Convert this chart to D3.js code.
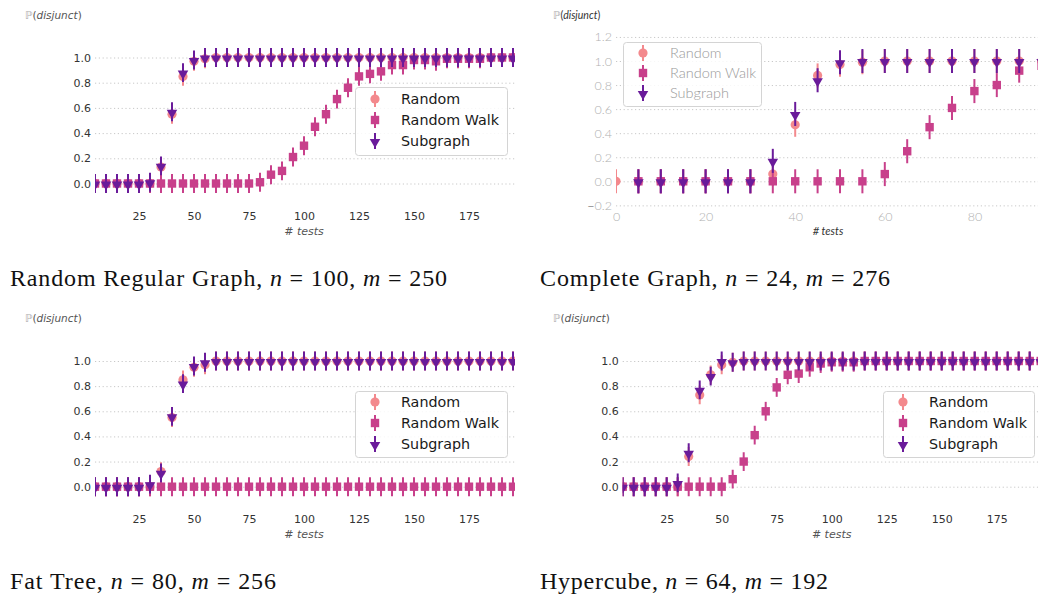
<!DOCTYPE html>
<html>
<head>
<meta charset="utf-8">
<script src="https://cdn.jsdelivr.net/npm/d3@7"></script>
<style>
  html, body { margin: 0; padding: 0; background: #fff; }
  svg { display: block; }
</style>
</head>
<body>
<div id="chart"></div>
<script>
// x values (# tests)
const tests5to195 = [5, 10, 15, 20, 25, 30, 35, 40, 45, 50, 55, 60, 65, 70, 75, 80, 85, 90, 95, 100,
    105, 110, 115, 120, 125, 130, 135, 140, 145, 150, 155, 160, 165, 170, 175, 180, 185, 190, 195];
const tests0to95 = [0, 5, 10, 15, 20, 25, 30, 35, 40, 45, 50, 55, 60, 65, 70, 75, 80, 85, 90, 95];
const tests5to95 = [5, 10, 15, 20, 25, 30, 35, 40, 45, 50, 55, 60, 65, 70, 75, 80, 85, 90, 95];

const seriesNames = ["Random", "Random Walk", "Subgraph"];

// Random Regular Graph
const rrgRandom = [0, 0, 0, 0, 0, 0, 0.13, 0.55, 0.85, 0.97, 0.99, 1, 1, 1, 1, 1, 1, 1, 1, 1,
    1, 1, 1, 1, 1, 1, 1, 1, 1, 1, 1, 1, 1, 1, 1, 1, 1, 1, 1];
const rrgWalk = [0, 0, 0, 0, 0, 0, 0, 0, 0, 0, 0, 0, 0, 0, 0, 0.01, 0.07, 0.10, 0.21, 0.30,
    0.45, 0.55, 0.67, 0.76, 0.85, 0.87, 0.89, 0.94, 0.94, 0.98, 0.98, 0.97, 0.99, 0.99, 0.99, 0.99, 1, 1, 1];
const rrgSubgraph = [0, 0, 0, 0, 0, 0.01, 0.14, 0.57, 0.88, 0.98, 1, 1, 1, 1, 1, 1, 1, 1, 1, 1,
    1, 1, 1, 1, 1, 1, 1, 1, 1, 1, 1, 1, 1, 1, 1, 1, 1, 1, 1];

// Complete Graph
const cgRandom = [0, 0, 0, 0, 0, 0, 0, 0.06, 0.47, 0.88, 0.97, 0.99, 1, 1, 1, 1, 1, 1, 1, 1];
const cgWalk = [0, 0, 0, 0, 0, 0, 0, 0, 0, 0, 0, 0.06, 0.25, 0.45, 0.61, 0.75, 0.80, 0.92, 0.96];
const cgSubgraph = [0, 0, 0, 0, 0, 0, 0.17, 0.56, 0.84, 0.99, 1, 1, 1, 1, 1, 1, 1, 1, 1];

// Fat Tree
const ftRandom = [0, 0, 0, 0, 0, 0, 0.12, 0.55, 0.85, 0.95, 0.97, 1, 1, 1, 1, 1, 1, 1, 1, 1,
    1, 1, 1, 1, 1, 1, 1, 1, 1, 1, 1, 1, 1, 1, 1, 1, 1, 1, 1];
const ftWalk = [0, 0, 0, 0, 0, 0, 0, 0, 0, 0, 0, 0, 0, 0, 0, 0, 0, 0, 0, 0,
    0, 0, 0, 0, 0, 0, 0, 0, 0, 0, 0, 0, 0, 0, 0, 0, 0, 0, 0];
const ftSubgraph = [0, 0, 0, 0, 0, 0.02, 0.11, 0.56, 0.82, 0.96, 0.99, 1, 1, 1, 1, 1, 1, 1, 1, 1,
    1, 1, 1, 1, 1, 1, 1, 1, 1, 1, 1, 1, 1, 1, 1, 1, 1, 1, 1];

// Hypercube
const hcRandom = [0, 0, 0, 0, 0, 0, 0.24, 0.73, 0.89, 0.97, 0.99, 1, 1, 1, 1, 1, 1, 1, 1, 1,
    1, 1, 1, 1, 1, 1, 1, 1, 1, 1, 1, 1, 1, 1, 1, 1, 1, 1, 1];
const hcWalk = [0, 0, 0, 0, 0, 0, 0, 0, 0, 0, 0.06, 0.20, 0.41, 0.60, 0.79, 0.89, 0.90, 0.95, 0.98, 0.99,
    0.99, 0.99, 1, 1, 1, 1, 1, 1, 1, 1, 1, 1, 1, 1, 1, 1, 1, 1, 1];
const hcSubgraph = [0, 0, 0, 0, 0, 0.03, 0.27, 0.77, 0.88, 1, 0.99, 1, 1, 1, 1, 1, 1, 1, 1, 1,
    1, 1, 1, 1, 1, 1, 1, 1, 1, 1, 1, 1, 1, 1, 1, 1, 1, 1, 1];

// error bar half widths
const errRRG = 0.075, errCG = 0.1, errFT = 0.075, errHC = 0.075;

// ticks
const xTicksLong = [25, 50, 75, 100, 125, 150, 175];
const yTicksShort = [0, 0.2, 0.4, 0.6, 0.8, 1.0];
const xTicksCG = [0, 20, 40, 60, 80];
const yTicksCG = [-0.2, 0, 0.2, 0.4, 0.6, 0.8, 1.0, 1.2];

// titles: [text, n, m]
const titles = [
    ["Random Regular Graph", "100", "250"],
    ["Complete Graph", "24", "276"],
    ["Fat Tree", "80", "256"],
    ["Hypercube", "64", "192"]
];

const colors = ["#f3898d", "#c8408b", "#6a1b9a"];
const shapes = ["circle", "square", "triangle"];

const width = 1038, height = 596;

const svg = d3.select("#chart")
    .append("svg")
    .attr("width", width)
    .attr("height", height);

const styleA = {
    font: "DejaVu Sans", tickSize: 11, tickFill: "#333", tickWeight: 400,
    legendSize: 14.3, legendFill: "#1a1a1a", legendWeight: 400,
    labelFill: "#555", xLabelShift: 0
};
const styleB = {
    font: "Lato", tickSize: 12.5, tickFill: "#b0b0b0", tickWeight: 300,
    legendSize: 14.5, legendFill: "#999", legendWeight: 300,
    labelFill: "#333", xLabelShift: -12
};

const panels = [
    {
        style: styleA, err: errRRG,
        data: [[tests5to195, rrgRandom], [tests5to195, rrgWalk], [tests5to195, rrgSubgraph]],
        xDomain: [5, 195], xRange: [95, 513], clip: [95, 515],
        yRange: [183.5, 57.5], xTicks: xTicksLong, yTicks: yTicksShort,
        xAxisY: 212, xLabelY: 235, yLabel: [25, 19],
        legend: { x: 355, y: 87, w: 152, h: 68, mx: 375, tx: 401, rows: [99, 120, 141] },
        title: [10, 286, 437]
    },
    {
        style: styleB, err: errCG,
        data: [[tests0to95, cgRandom], [tests5to95, cgWalk], [tests5to95, cgSubgraph]],
        xDomain: [0, 100], xRange: [616, 1064], clip: [616, 1038],
        yRange: [181.3, 61.0], xTicks: xTicksCG, yTicks: yTicksCG,
        xAxisY: 212.5, xLabelY: 235, yLabel: [553, 19],
        legend: { x: 623, y: 42, w: 138, h: 64, mx: 643, tx: 670, rows: [53, 73, 93] },
        title: [540, 286, 350]
    },
    {
        style: styleA, err: errFT,
        data: [[tests5to195, ftRandom], [tests5to195, ftWalk], [tests5to195, ftSubgraph]],
        xDomain: [5, 195], xRange: [95, 513], clip: [95, 515],
        yRange: [486.7, 361], xTicks: xTicksLong, yTicks: yTicksShort,
        xAxisY: 515, xLabelY: 538, yLabel: [25, 322],
        legend: { x: 355, y: 391, w: 152, h: 66, mx: 375, tx: 401, rows: [402, 423, 444] },
        title: [10, 589, 266]
    },
    {
        style: styleA, err: errHC,
        data: [[tests5to195, hcRandom], [tests5to195, hcWalk], [tests5to195, hcSubgraph]],
        xDomain: [5, 195], xRange: [622.7, 1040.7], clip: [622.7, 1038],
        yRange: [486.7, 361], xTicks: xTicksLong, yTicks: yTicksShort,
        xAxisY: 515, xLabelY: 538, yLabel: [553, 322],
        legend: { x: 883, y: 391, w: 151, h: 66, mx: 903, tx: 929, rows: [402, 423, 444] },
        title: [540, 589, 288]
    }
];

function drawMarker(g, shape, color, cx, cy) {
    if (shape === "circle") {
        g.append("circle").attr("cx", cx).attr("cy", cy).attr("r", 4.6).attr("fill", color);
    } else if (shape === "square") {
        g.append("rect").attr("x", cx - 4.2).attr("y", cy - 4.2)
            .attr("width", 8.4).attr("height", 8.4).attr("fill", color);
    } else {
        g.append("path")
            .attr("d", d3.symbol().type(d3.symbolTriangle).size(48)())
            .attr("transform", `translate(${cx},${cy + 1}) rotate(180)`)
            .attr("fill", color);
    }
}

panels.forEach((p, pi) => {
    const st = p.style;
    const x = d3.scaleLinear().domain(p.xDomain).range(p.xRange);
    const y = d3.scaleLinear().domain([0, 1]).range(p.yRange);
    const g = svg.append("g");

    // grid
    const gridEnd = p.clip[1];
    g.append("g")
        .attr("transform", `translate(${p.clip[0]},0)`)
        .call(d3.axisLeft(y).tickValues(p.yTicks).tickSize(-(gridEnd - p.clip[0])).tickFormat(""))
        .call(a => a.select(".domain").remove())
        .call(a => a.selectAll("line")
            .attr("stroke", "#c8c8c8").attr("stroke-width", 1)
            .attr("stroke-dasharray", "1.2,2.6"));

    // y tick labels
    const yAxis = g.append("g")
        .attr("transform", `translate(${p.clip[0]},0)`)
        .call(d3.axisLeft(y).tickValues(p.yTicks).tickSize(0).tickPadding(4).tickFormat(d3.format(".1f")));
    yAxis.select(".domain").remove();
    yAxis.selectAll("text")
        .attr("font-family", st.font).attr("font-size", st.tickSize)
        .attr("font-weight", st.tickWeight).attr("fill", st.tickFill);
    if (st === styleB) {
        yAxis.selectAll("text").filter(d => d < 0).each(function (d) {
            const t = d3.select(this);
            const s = t.text();
            t.text("");
            t.append("tspan").attr("fill", "#222").text(s.slice(0, 1));
            t.append("tspan").text(s.slice(1));
        });
    }

    // x tick labels
    const xAxis = g.append("g")
        .attr("transform", `translate(0,${p.xAxisY})`)
        .call(d3.axisBottom(x).tickValues(p.xTicks).tickSize(0).tickPadding(0));
    xAxis.select(".domain").remove();
    xAxis.selectAll("text")
        .attr("font-family", st.font).attr("font-size", st.tickSize)
        .attr("font-weight", st.tickWeight).attr("fill", st.tickFill);

    // x label
    g.append("text")
        .attr("x", (p.xRange[0] + p.xRange[1]) / 2 + st.xLabelShift)
        .attr("y", p.xLabelY)
        .attr("text-anchor", "middle")
        .attr("font-family", st.font).attr("font-style", "italic")
        .attr("font-size", 11).attr("fill", st.labelFill)
        .text("# tests");

    // y label
    const yl = g.append("text")
        .attr("x", p.yLabel[0]).attr("y", p.yLabel[1])
        .attr("font-family", st.font).attr("font-size", 10.5).attr("fill", st.labelFill);
    yl.append("tspan").attr("font-family", "DejaVu Sans").attr("fill", "#aaa").text("ℙ");
    yl.append("tspan").text("(");
    yl.append("tspan").attr("font-style", "italic").text("disjunct");
    yl.append("tspan").text(")");

    // clip
    const clipId = "clip" + pi;
    svg.append("clipPath").attr("id", clipId)
        .append("rect").attr("x", p.clip[0]).attr("y", 0)
        .attr("width", p.clip[1] - p.clip[0]).attr("height", height);

    const plot = g.append("g").attr("clip-path", `url(#${clipId})`);
    p.data.forEach(([xs, ys], si) => {
        const sg = plot.append("g");
        xs.forEach((xv, i) => {
            const cx = x(xv), cy = y(ys[i]);
            sg.append("line")
                .attr("x1", cx).attr("x2", cx)
                .attr("y1", y(ys[i] - p.err)).attr("y2", y(ys[i] + p.err))
                .attr("stroke", colors[si]).attr("stroke-width", 2);
            drawMarker(sg, shapes[si], colors[si], cx, cy);
        });
    });

    // legend
    const L = p.legend;
    const lg = g.append("g");
    lg.append("rect")
        .attr("x", L.x + 0.5).attr("y", L.y + 0.5)
        .attr("width", L.w).attr("height", L.h).attr("rx", 3)
        .attr("fill", "#fff").attr("fill-opacity", 0.85)
        .attr("stroke", "#d4d4d4").attr("stroke-width", 1);
    seriesNames.forEach((name, si) => {
        const cy = L.rows[si];
        lg.append("line")
            .attr("x1", L.mx).attr("x2", L.mx)
            .attr("y1", cy - 8).attr("y2", cy + 8)
            .attr("stroke", colors[si]).attr("stroke-width", 2);
        drawMarker(lg, shapes[si], colors[si], L.mx, cy);
        lg.append("text")
            .attr("x", L.tx).attr("y", cy)
            .attr("dy", "0.36em")
            .attr("font-family", st.font).attr("font-size", st.legendSize)
            .attr("font-weight", st.legendWeight).attr("fill", st.legendFill)
            .text(name);
    });

    // title (LaTeX-like caption under each panel)
    const t = titles[pi];
    const tt = svg.append("text")
        .attr("x", p.title[0]).attr("y", p.title[1])
        .attr("textLength", p.title[2]).attr("lengthAdjust", "spacing")
        .attr("font-family", "Liberation Serif").attr("font-size", 24).attr("fill", "#111");
    tt.append("tspan").text(t[0] + ", ");
    tt.append("tspan").attr("font-style", "italic").text("n");
    tt.append("tspan").text(" = " + t[1] + ", ");
    tt.append("tspan").attr("font-style", "italic").text("m");
    tt.append("tspan").text(" = " + t[2]);
});
</script>
</body>
</html>
